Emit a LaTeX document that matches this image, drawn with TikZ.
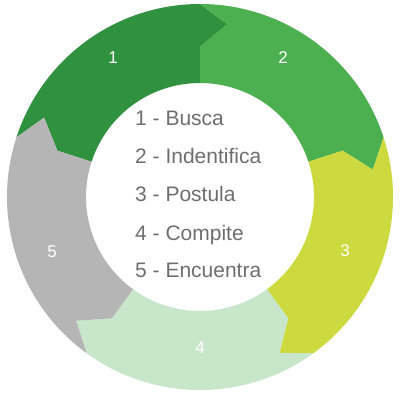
\documentclass[tikz,border=0pt]{standalone}
\usepackage{fontspec}
\setmainfont{Liberation Sans}
\definecolor{cA}{HTML}{30923F}
\definecolor{cB}{HTML}{4CAF50}
\definecolor{cC}{HTML}{CDDA3F}
\definecolor{cD}{HTML}{C8E6C9}
\definecolor{cE}{HTML}{B5B5B5}
\definecolor{txt}{HTML}{6E6E6E}
\begin{document}
\begin{tikzpicture}[x=1pt,y=1pt,
  num/.style={text=white,font=\fontsize{17}{17}\selectfont,inner sep=0pt,anchor=center},
  item/.style={text=txt,font=\fontsize{21}{21}\selectfont,inner sep=0pt,anchor=base west}]
\useasboundingbox (0,0) rectangle (400,400);
\fill[white] (0,0) rectangle (400,400);
\foreach \a/\c in {162/cA, 90/cB, 18/cC, -54/cD, -126/cE}{
  \pgfmathsetmacro{\b}{\a-72}
  \pgfmathsetmacro{\bt}{\a-81}
  \pgfmathsetmacro{\at}{\a-9}
  \fill[\c, shift={(200,203)}] (\a:193) arc[start angle=\a, end angle=\b, radius=193]
    -- (\bt:175) -- (\b:150) -- (\b:114)
    arc[start angle=\b, end angle=\a, radius=114]
    -- (\a:150) -- (\at:175) -- cycle;
}
\node[num] (n1) at (113,342) {1};
\node[num] (n2) at (283,342) {2};
\node[num] (n3) at (345,149) {3};
\node[num] (n4) at (200,52) {4};
\node[num] (n5) at (52,148) {5};
\node[item] (t1) at (135,274) {1 - Busca};
\node[item] (t2) at (135,236) {2 - Indentifica};
\node[item] (t3) at (135,198) {3 - Postula};
\node[item] (t4) at (135,160) {4 - Compite};
\node[item] (t5) at (135,122) {5 - Encuentra};
\end{tikzpicture}
\end{document}
